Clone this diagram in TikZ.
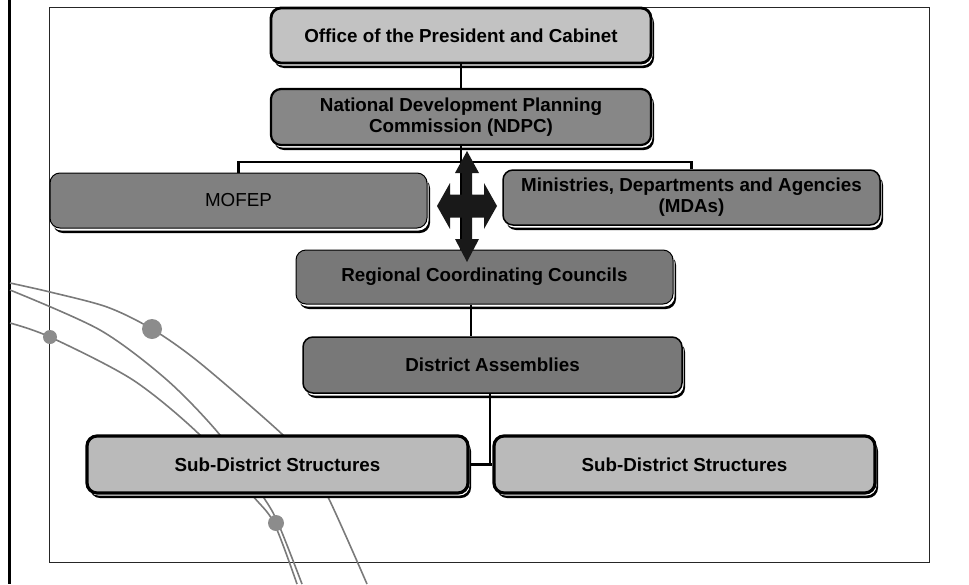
\documentclass[tikz,border=0pt]{standalone}
\usepackage{fontspec}
\setmainfont{Liberation Sans}

\begin{document}
\begin{tikzpicture}[x=1pt,y=-1pt,font=\fontsize{18.8}{21}\selectfont\bfseries]
\tikzset{
% Box styles for the chart: black shadow with a thin white gap
chart box/.style={rectangle,rounded corners=10,align=center,inner sep=0,
  minimum width=377,minimum height=55,
  preaction={fill=black,transform canvas={xshift=3pt,yshift=-5pt}},
  preaction={fill=white,transform canvas={xshift=1.5pt,yshift=-2.5pt}}},
light box/.style={chart box,draw,line width=2.8,fill=black!24},
dark box/.style={chart box,draw,line width=1.5,fill=black!50},
link/.style={draw,line width=2.3},
curve/.style={draw=black!52,line width=1.6}
}
\useasboundingbox (0,0) rectangle (969,584);

% frame and the bar on the left
\draw[black!85,line width=1] (49,7) rectangle (929,562);
\draw[line width=3] (9,0) -- (9,584);

% the arcs in the corner
\draw[curve] plot[smooth] coordinates {(10,283) (50,292) (107,307) (152,329) (200,363) (283,435) (305,463) (327,495) (367,584)};
\draw[curve] plot[smooth] coordinates {(10,290) (100,330) (167,380) (220,435) (262,495) (278,523) (302,584)};
\draw[curve] plot[smooth] coordinates {(10,323) (50,337) (133,380) (200,435) (252,495) (274,523) (297,584)};
\fill[black!45] (152,329) circle (10pt);
\fill[black!45] (50,337) circle (7pt);
\fill[black!45] (276,523) circle (8pt);

% The Chart
\node (pres)[light box,minimum width=380] at (461,35.5) {Office of the President and Cabinet};
\node (ndpc)[dark box,line width=2.2,fill=black!47,minimum width=380,minimum height=56] at (461,117) {National Development Planning\\Commission (NDPC)};
\node (mofep)[dark box,line width=1,font=\fontsize{18.8}{21}\selectfont\mdseries] at (238.5,200.5) {MOFEP};
\node (mda)[dark box] at (691.5,197.5) {Ministries, Departments and Agencies\\(MDAs)};
\node (rcc)[dark box,line width=1,fill=black!53,minimum height=54] at (484.5,277) {Regional Coordinating Councils};
\node (da)[dark box,fill=black!53,minimum width=379,minimum height=56] at (492.5,365) {District Assemblies};
\node (sub1)[light box,line width=3.2,fill=black!27,minimum width=381,minimum height=57] at (277.5,464.5) {Sub-District Structures};
\node (sub2)[light box,line width=3.2,fill=black!27,minimum width=381,minimum height=57] at (684.5,464.5) {Sub-District Structures};

% connectors
\coordinate (bus) at (461,162);
\draw[link] (pres) -- (ndpc);
\draw[link] (ndpc.south) -- (ndpc.south |- rcc.north);
\draw[link] (mofep.north) |- (bus) -| (mda.north);
\draw[link] ([xshift=-13.5]rcc.south) -- ([xshift=-21.5]da.north);
\draw[link] ([xshift=-2.5]da.south) |- (sub1.east);
\draw[link] ([xshift=-2.5]da.south) |- (sub2.west);

% four-way arrow between the levels
\coordinate (hub) at (467,206);
\fill[black!90,shift={(hub)}] (0,-55) -- (12,-33) -- (5,-33) -- (5,-11.5) -- (17,-11.5) -- (17,-23) -- (30,0)
  -- (17,23) -- (17,11.5) -- (5,11.5) -- (5,33) -- (12,33) -- (0,56) -- (-12,33) -- (-5,33) -- (-5,11.5)
  -- (-17,11.5) -- (-17,23) -- (-30,0) -- (-17,-23) -- (-17,-11.5) -- (-5,-11.5) -- (-5,-33) -- (-12,-33) -- cycle;
\end{tikzpicture}
\end{document}
